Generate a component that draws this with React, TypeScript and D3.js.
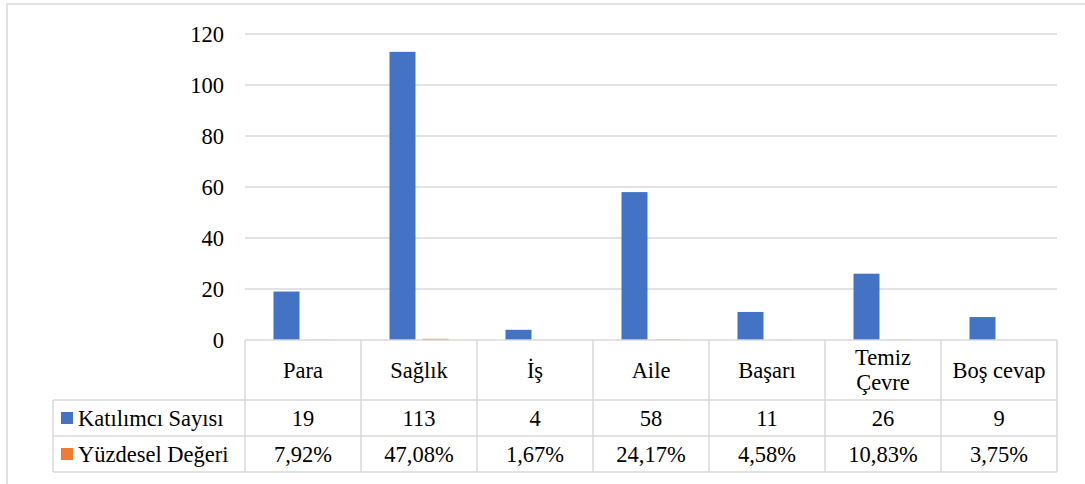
import React from "react";
import * as d3 from "d3";

const categories = ["Para", "Sağlık", "İş", "Aile", "Başarı", "Temiz Çevre", "Boş cevap"];
const categoryLines = [["Para"], ["Sağlık"], ["İş"], ["Aile"], ["Başarı"], ["Temiz", "Çevre"], ["Boş cevap"]];
const katilimci = [19, 113, 4, 58, 11, 26, 9];
const yuzdesel = [0.0792, 0.4708, 0.0167, 0.2417, 0.0458, 0.1083, 0.0375];
const yuzdeselLabels = ["7,92%", "47,08%", "1,67%", "24,17%", "4,58%", "10,83%", "3,75%"];
const seriesNames = ["Katılımcı Sayısı", "Yüzdesel Değeri"];
const seriesColors = ["#4472C4", "#ED7D31"];
const yTicks = [0, 20, 40, 60, 80, 100, 120];

export default function App() {
  const W = 1085, H = 484;
  const left = 245, right = 1057, top = 34, bottom = 340;
  const fs = 22.5;
  const grid = "#d9d9d9";

  const y = d3.scaleLinear().domain([0, 120]).range([bottom, top]);
  const step = (right - left) / categories.length;
  const pad = 57 / step;
  const x = d3.scaleBand<string>().domain(categories).range([left, right]).paddingInner(pad).paddingOuter(pad / 2);
  const xs = d3.scaleBand<string>().domain(["0", "1"]).range([0, x.bandwidth()]).paddingInner(7 / 33).paddingOuter(0);
  const series = [katilimci, yuzdesel];

  const rowTops = [340, 400, 436, 472];
  const labelLeft = 53;
  const colLines = d3.range(categories.length + 1).map((i) => left + i * step);
  const ts = { fontFamily: "'Liberation Serif'", fontSize: fs } as React.CSSProperties;

  return (
    <div>
      <style>{`#root svg.chart text, #root svg.chart tspan { font-family: 'Liberation Serif' !important; }`}</style>
      <svg
        className="chart"
        width={W}
        height={H}
        style={{ position: "absolute", left: 0, top: 0, background: "#fff" }}
      >
        <rect x={7} y={4} width={W} height={H} fill="#fff" stroke={grid} strokeWidth={1.5} />
        {yTicks.map((t) => (
          <g key={t}>
            {t > 0 && <line x1={left} x2={right} y1={y(t)} y2={y(t)} stroke={grid} strokeWidth={1.3} />}
            <text x={224} y={y(t)} dy="0.35em" textAnchor="end" fill="#000" style={ts}>
              {t}
            </text>
          </g>
        ))}
        {series.map((vals, si) =>
          vals.map((v, ci) => (
            <rect
              key={`${si}-${ci}`}
              x={(x(categories[ci]) as number) + (xs(String(si)) as number)}
              y={y(v)}
              width={xs.bandwidth()}
              height={bottom - y(v)}
              fill={seriesColors[si]}
            />
          ))
        )}
        <g stroke={grid} strokeWidth={1.5} fill="none">
          <line x1={left} x2={right} y1={rowTops[0]} y2={rowTops[0]} />
          {rowTops.slice(1).map((r) => (
            <line key={r} x1={labelLeft} x2={right} y1={r} y2={r} />
          ))}
          {colLines.map((c) => (
            <line key={c} x1={c} x2={c} y1={rowTops[0]} y2={rowTops[3]} />
          ))}
          <line x1={labelLeft} x2={labelLeft} y1={rowTops[1]} y2={rowTops[3]} />
        </g>
        {categoryLines.map((lines, ci) => {
          const cx = left + (ci + 0.5) * step;
          const cy = (rowTops[0] + rowTops[1]) / 2;
          return (
            <text key={ci} x={cx} textAnchor="middle" fill="#000" style={ts}>
              {lines.map((l, li) => (
                <tspan key={li} x={cx} y={cy + (li - (lines.length - 1) / 2) * 25} dy="0.35em">
                  {l}
                </tspan>
              ))}
            </text>
          );
        })}
        {[katilimci.map(String), yuzdeselLabels].map((row, ri) => {
          const cy = (rowTops[ri + 1] + rowTops[ri + 2]) / 2;
          return (
            <g key={ri}>
              <rect x={61} y={cy - 6} width={12} height={12} fill={seriesColors[ri]} />
              <text x={78} y={cy} dy="0.35em" fill="#000" style={ts}>
                {seriesNames[ri]}
              </text>
              {row.map((v, ci) => (
                <text key={ci} x={left + (ci + 0.5) * step} y={cy} dy="0.35em" textAnchor="middle" fill="#000" style={ts}>
                  {v}
                </text>
              ))}
            </g>
          );
        })}
      </svg>
    </div>
  );
}
